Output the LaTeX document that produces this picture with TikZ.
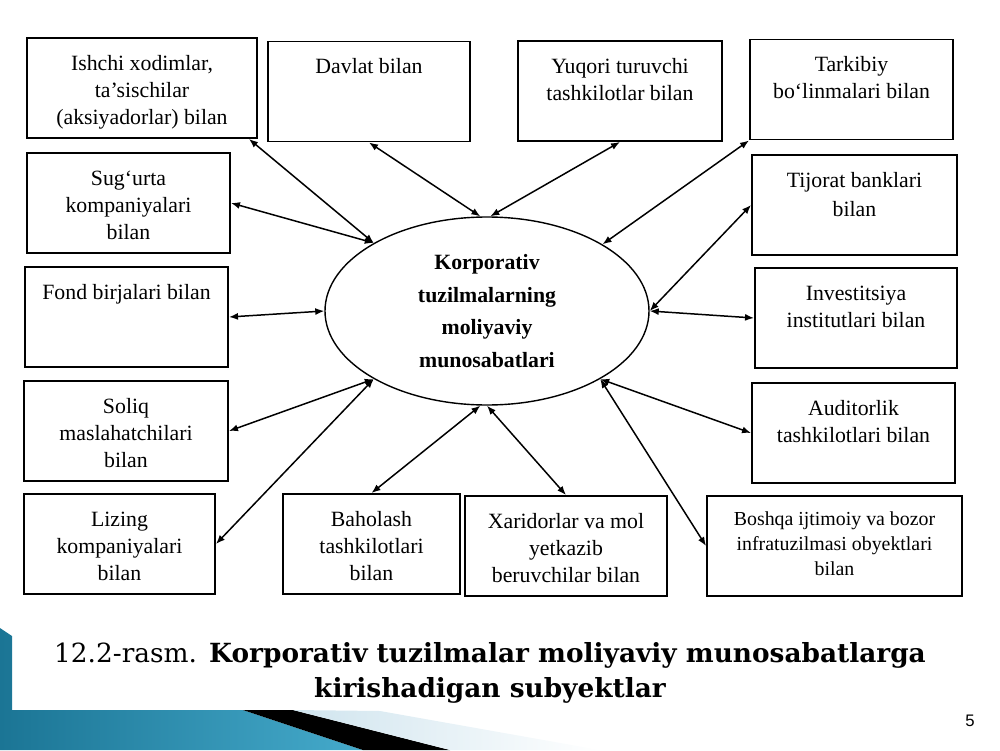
\documentclass[tikz,border=0pt]{standalone}
\usepackage{fontspec}
\setmainfont{Liberation Serif}
\newfontfamily\capfont{DejaVu Serif}
\newfontfamily\numfont{Liberation Sans}
\usetikzlibrary{arrows.meta,shapes.geometric}

\definecolor{slideblue}{HTML}{1B7595}
\definecolor{slidelight}{HTML}{45AACB}
\definecolor{slidepale}{HTML}{CFE4EE}

\tikzset{
    subj/.style={draw, line width=1.1pt, align=center, inner xsep=0pt, inner ysep=0pt,
        font=\fontsize{12.4}{15.3}\selectfont, text height=6.4mm, text depth=13.6mm},
    twolines/.style={text height=11.8mm, text depth=8.2mm},
    threelines/.style={text height=17.2mm, text depth=2.8mm},
    core/.style={ellipse, draw, line width=0.8pt, inner sep=0pt, align=center,
        minimum width=64.8mm, minimum height=37.6mm,
        font=\bfseries\fontsize{12.4}{18.7}\selectfont},
    link/.style={line width=0.85pt, {Latex[length=1.8mm,width=1.4mm]}-{Latex[length=1.8mm,width=1.4mm]}},
    capt/.style={align=center, inner sep=0pt, font=\capfont\bfseries\fontsize{15}{19.9}\selectfont},
}

\begin{document}
\begin{tikzpicture}[x=0.2mm, y=-0.2mm]
    \useasboundingbox (0,0) rectangle (1000,750);

    % slide decoration
    \shade[left color=slideblue, right color=slidelight]
        (0,628) -- (12,636) -- (12,710) -- (243,710) -- (363,750) -- (0,750) -- cycle;
    \fill[black] (243,710) -- (293,710) -- (450,750) -- (363,750) -- cycle;
    \shade[left color=slidepale, right color=white]
        (293,710) -- (380,711) -- (600,750) -- (450,750) -- cycle;

    % centre
    \node[core] (core) at (487,311) {Korporativ\\tuzilmalarning\\moliyaviy\\munosabatlari};

    % subjects
    \node[subj, threelines, minimum width=46mm] (ishchi) at (142,88) {Ishchi xodimlar,\\ta’sischilar\\(aksiyadorlar) bilan};
    \node[subj, minimum width=40.4mm] (davlat) at (369,91.5) {Davlat bilan};
    \node[subj, twolines, minimum width=40.8mm] (yuqori) at (620,91) {Yuqori turuvchi\\tashkilotlar bilan};
    \node[subj, twolines, minimum width=40.6mm] (tarkibiy) at (851.5,89.5) {Tarkibiy\\bo‘linmalari bilan};
    \node[subj, threelines, minimum width=40.6mm] (sugurta) at (128.5,203) {Sug‘urta\\kompaniyalari\\bilan};
    \node[subj, minimum width=40.6mm] (fond) at (126.5,317) {Fond birjalari bilan};
    \node[subj, threelines, minimum width=40.8mm] (soliq) at (126,431) {Soliq\\maslahatchilari\\bilan};
    \node[subj, threelines, minimum width=38.2mm] (lizing) at (119.5,544) {Lizing\\kompaniyalari\\bilan};
    \node[subj, threelines, minimum width=35.4mm] (baholash) at (371.5,544) {Baholash\\tashkilotlari\\bilan};
    \node[subj, threelines, minimum width=40.4mm] (xaridor) at (566,546) {Xaridorlar va mol\\yetkazib\\beruvchilar bilan};
    \node[subj, minimum width=51mm, font=\fontsize{11.3}{14}\selectfont,
        text height=15.8mm, text depth=4.2mm] (boshqa) at (834.5,546) {Boshqa ijtimoiy va bozor\\infratuzilmasi obyektlari\\bilan};
    \node[subj, minimum width=41mm, font=\fontsize{12.4}{16.5}\selectfont,
        text height=12.2mm, text depth=7.8mm] (tijorat) at (854.5,205) {Tijorat banklari\\bilan};
    \node[subj, twolines, minimum width=40.4mm] (invest) at (856,318) {Investitsiya\\institutlari bilan};
    \node[subj, twolines, minimum width=40.6mm] (audit) at (853.5,433) {Auditorlik\\tashkilotlari bilan};

    % links
    \draw[link] ([xshift=-1.8mm]ishchi.south east) -- (core.149);
    \draw[link] (sugurta.east) -- (core.149);
    \draw[link] (davlat.south) -- (core.94);
    \draw[link] (yuqori.south) -- (core.88);
    \draw[link] (tarkibiy.south west) -- (core.30);
    \draw[link] (tijorat.west) -- (core.east);
    \draw[link] (invest.west) -- (core.east);
    \draw[link] (fond.east) -- (core.west);
    \draw[link] (soliq.east) -- (core.211);
    \draw[link] (lizing.east) -- (core.211);
    \draw[link] (baholash.north) -- (core.266);
    \draw[link] (xaridor.north) -- (core.270);
    \draw[link] (audit.west) -- (core.-31);
    \draw[link] (boshqa.west) -- (core.-31);

    % caption
    \node[capt, anchor=base] (caption) at (490,697)
        {{\mdseries 12.2-rasm.} Korporativ tuzilmalar moliyaviy munosabatlarga\\kirishadigan subyektlar};
    \node[font=\numfont\fontsize{9.5}{11}\selectfont] (pagenum) at (970,721) {5};
\end{tikzpicture}
\end{document}
